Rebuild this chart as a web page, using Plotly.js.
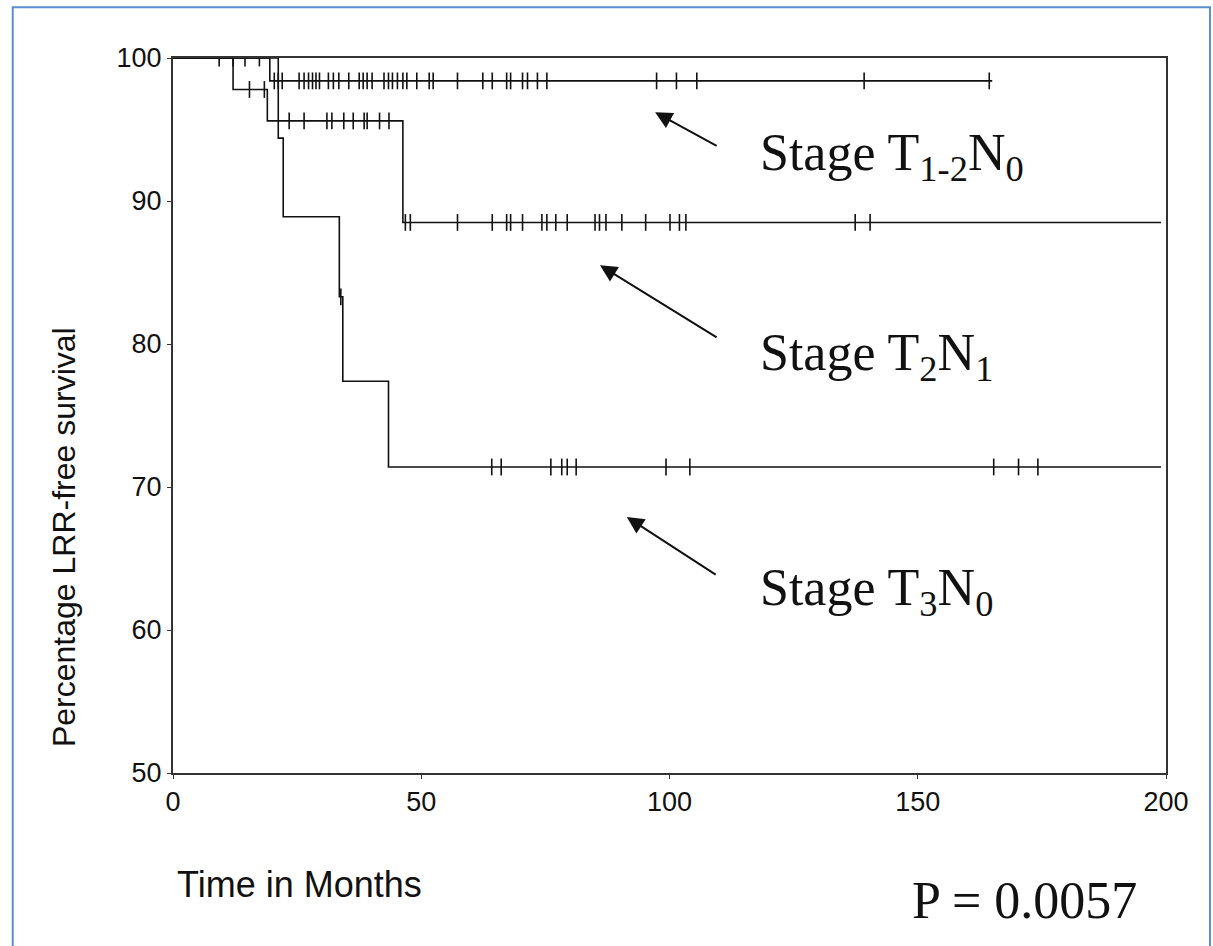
<!DOCTYPE html>
<html>
<head>
<meta charset="utf-8">
<script src="https://cdn.plot.ly/plotly-3.0.1.min.js"></script>
<style>
  html, body { margin: 0; padding: 0; background: #ffffff; }
  #chart { width: 1213px; height: 946px; }
</style>
</head>
<body>
<div id="chart"></div>
<script>
// ---- Data ----
// Stage T1-2N0
const t12n0Times = [0, 19.5, 165];
const t12n0Surv  = [100, 98.4, 98.4];
const t12n0Censor = [9.3, 14.5, 20.4, 21.2, 22.0, 25.4, 26.4, 27.3, 28.1, 28.8, 29.5,
  31.3, 32.3, 33.4, 35.4, 37.5, 38.3, 39.1, 40.1, 42.5, 43.4, 44.2, 45.2, 46.3, 47.1,
  49.1, 51.6, 52.4, 57.3, 62.4, 64.3, 67.2, 68.0, 70.4, 71.4, 73.4, 75.3, 97.4, 101.4,
  105.5, 139.2, 164.4];

// Stage T2N1
const t2n1Times = [0, 12.1, 19.0, 46.3, 199];
const t2n1Surv  = [100, 97.8, 95.6, 88.5, 88.5];
const t2n1Censor = [15.4, 18.4, 23.4, 26.4, 31.0, 32.0, 34.4, 36.3, 38.5, 39.1, 41.6, 43.5,
  46.8, 47.8, 57.3, 64.3, 67.2, 68.0, 70.4, 74.3, 75.3, 77.1, 79.4, 85.0, 85.9, 87.2,
  90.4, 95.2, 100.1, 102.0, 103.3, 137.4, 140.4];

// Stage T3N0
const t3n0Times = [0, 21.2, 22.2, 33.5, 34.2, 43.4, 199];
const t3n0Surv  = [100, 94.4, 88.9, 83.3, 77.4, 71.4, 71.4];
const t3n0Censor = [12.1, 17.4, 33.8, 64.2, 66.1, 76.1, 78.3, 79.4, 81.2, 99.3, 104.1,
  165.3, 170.3, 174.2];

const xTicks = [0, 50, 100, 150, 200];
const yTicks = [50, 60, 70, 80, 90, 100];

// ---- Helpers ----
function survAt(times, surv, t) {
  let s = surv[0];
  for (let i = 0; i < times.length; i++) {
    if (times[i] <= t) s = surv[i];
  }
  return s;
}
function curveTrace(times, surv, name) {
  return { type: 'scatter', mode: 'lines', x: times, y: surv, name: name,
    line: { shape: 'hv', color: '#111111', width: 1.6 }, hoverinfo: 'skip', showlegend: false };
}
function censorTrace(times, surv, cens, name) {
  return { type: 'scatter', mode: 'markers', x: cens,
    y: cens.map(t => survAt(times, surv, t)), name: name + ' censored',
    marker: { symbol: 'line-ns', size: 12, color: '#111111', line: { color: '#111111', width: 1.6 } },
    hoverinfo: 'skip', showlegend: false };
}

const data = [
  curveTrace(t12n0Times, t12n0Surv, 'T1-2N0'),
  curveTrace(t2n1Times, t2n1Surv, 'T2N1'),
  curveTrace(t3n0Times, t3n0Surv, 'T3N0'),
  censorTrace(t12n0Times, t12n0Surv, t12n0Censor, 'T1-2N0'),
  censorTrace(t2n1Times, t2n1Surv, t2n1Censor, 'T2N1'),
  censorTrace(t3n0Times, t3n0Surv, t3n0Censor, 'T3N0')
];

const sans = 'Liberation Sans, Arial, sans-serif';
const serif = 'Liberation Serif, Times New Roman, serif';

function arrow(hx, hy, tx, ty) {
  return { x: hx, y: hy, ax: tx, ay: ty, xref: 'x', yref: 'y', axref: 'x', ayref: 'y',
    text: '', showarrow: true, arrowhead: 2, arrowsize: 1.7, arrowwidth: 2, arrowcolor: '#111111' };
}

const layout = {
  width: 1213, height: 946,
  margin: { l: 173, r: 47, t: 58, b: 173 },
  paper_bgcolor: '#ffffff', plot_bgcolor: '#ffffff',
  showlegend: false,
  xaxis: {
    range: [0, 200], tickvals: xTicks, ticktext: xTicks.map(String),
    showgrid: false, zeroline: false, showline: true, mirror: true,
    linecolor: '#333333', linewidth: 2, ticks: 'outside', ticklen: 4, tickcolor: '#333333',
    tickfont: { family: sans, size: 27, color: '#111111' }
  },
  yaxis: {
    range: [50, 100], tickvals: yTicks, ticktext: yTicks.map(String),
    showgrid: false, zeroline: false, showline: true, mirror: true,
    linecolor: '#333333', linewidth: 2, ticks: 'outside', ticklen: 4, tickcolor: '#333333',
    tickfont: { family: sans, size: 27, color: '#111111' }
  },
  annotations: [
    { xref: 'paper', yref: 'paper', x: -0.1098, y: 0.33, text: 'Percentage LRR-free survival',
      textangle: -90, showarrow: false, xanchor: 'center', yanchor: 'middle',
      font: { family: sans, size: 32, color: '#111111' } },
    { xref: 'paper', yref: 'paper', x: 0.002, y: -0.1566, text: 'Time in Months',
      showarrow: false, xanchor: 'left', yanchor: 'middle',
      font: { family: sans, size: 36, color: '#111111' } },
    { xref: 'paper', yref: 'paper', x: 0.589, y: 0.862, text: 'Stage T<sub>1-2</sub>N<sub>0</sub>',
      showarrow: false, xanchor: 'left', yanchor: 'middle',
      font: { family: serif, size: 52, color: '#111111' } },
    { xref: 'paper', yref: 'paper', x: 0.589, y: 0.583, text: 'Stage T<sub>2</sub>N<sub>1</sub>',
      showarrow: false, xanchor: 'left', yanchor: 'middle',
      font: { family: serif, size: 52, color: '#111111' } },
    { xref: 'paper', yref: 'paper', x: 0.589, y: 0.254, text: 'Stage T<sub>3</sub>N<sub>0</sub>',
      showarrow: false, xanchor: 'left', yanchor: 'middle',
      font: { family: serif, size: 52, color: '#111111' } },
    { xref: 'paper', yref: 'paper', x: 0.742, y: -0.178, text: 'P = 0.0057',
      showarrow: false, xanchor: 'left', yanchor: 'middle',
      font: { family: serif, size: 52, color: '#111111' } },
    arrow(97.1, 96.2, 109.8, 93.8),
    arrow(86.0, 85.5, 109.8, 80.4),
    arrow(91.4, 67.9, 109.6, 63.8)
  ],
  shapes: [
    { type: 'rect', xref: 'paper', yref: 'paper', x0: -0.1614, x1: 1.0443, y0: -0.2615, y1: 1.0709,
      line: { color: '#5b8fd0', width: 2 }, fillcolor: 'rgba(0,0,0,0)' }
  ]
};

Plotly.newPlot('chart', data, layout, { displayModeBar: false, staticPlot: true });
</script>
</body>
</html>
